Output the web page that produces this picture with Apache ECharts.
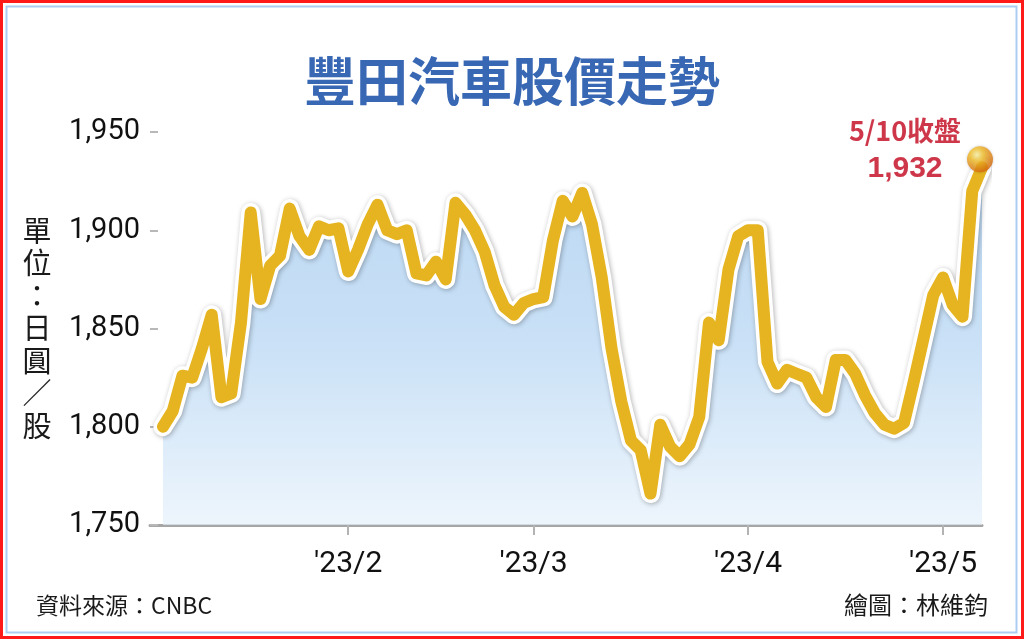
<!DOCTYPE html>
<html><head><meta charset="utf-8">
<script src="https://cdn.jsdelivr.net/npm/echarts@6/dist/echarts.min.js"></script>
<style>html,body{margin:0;padding:0;background:#fff}#c{width:1024px;height:639px}</style>
</head><body><div id="c"></div>
<script>
// Trading days 2023/1/4 – 2023/5/10 (Tokyo)
const dates = [
 '1/4','1/5','1/6','1/10','1/11','1/12','1/13','1/16','1/17','1/18','1/19','1/20','1/23','1/24','1/25','1/26','1/27','1/30','1/31',
 '2/1','2/2','2/3','2/6','2/7','2/8','2/9','2/10','2/13','2/14','2/15','2/16','2/17','2/20','2/21','2/22','2/24','2/27','2/28',
 '3/1','3/2','3/3','3/6','3/7','3/8','3/9','3/10','3/13','3/14','3/15','3/16','3/17','3/20','3/22','3/23','3/24','3/27','3/28','3/29','3/30','3/31',
 '4/3','4/4','4/5','4/6','4/7','4/10','4/11','4/12','4/13','4/14','4/17','4/18','4/19','4/20','4/21','4/24','4/25','4/26','4/27','4/28',
 '5/1','5/2','5/8','5/9','5/10'
];
const prices = [
 1800,1808,1826,1825,1840,1857,1815,1817,1853,1909,1865,1882,1887,1911,1897,1890,1902,1900,1901,
 1879,1890,1903,1913,1900,1898,1900,1878,1877,1884,1875,1914,1908,1900,1889,1872,1861,1857,1863,
 1865,1866,1895,1915,1907,1919,1903,1876,1840,1813,1793,1788,1766,1801,1790,1785,1791,1805,1853,1844,1880,1897,
 1900,1900,1833,1822,1829,1827,1825,1815,1810,1834,1834,1827,1816,1807,1801,1799,1802,1823,1845,1867,
 1876,1862,1856,1920,1932
];
const tickDates = ['2/1','3/1','4/3','5/1'];
const tickLabels = ["'23/2","'23/3","'23/4","'23/5"];
const yMin = 1750, yMax = 1950, yStep = 50;
const titleText = '豐田汽車股價走勢';
const unitText = '單位：日圓／股';
const sourceText = '資料來源：CNBC';
const creditText = '繪圖：林維鈞';
const closeLabel = '5/10收盤';

const chart = echarts.init(document.getElementById('c'));
const seriesData = prices.map((v, i) => [i, v]);
const tickIdx = tickDates.map(d => dates.indexOf(d));
const last = seriesData[seriesData.length - 1];
const fmt = v => String(v).replace(/\B(?=(\d{3})+(?!\d))/g, ',');

chart.setOption({
  animation: false,
  backgroundColor: '#fff',
  title: {
    text: titleText, left: 'center', top: 50,
    textStyle: { fontFamily: 'Noto Sans CJK TC', fontSize: 52, fontWeight: 'bold', color: '#3867b4', lineHeight: 52 }
  },
  grid: { left: 150, right: 42, top: 132, bottom: 114 },
  xAxis: {
    type: 'value', min: -1.33, max: prices.length - 1,
    splitLine: { show: false },
    axisLine: { show: true, lineStyle: { color: '#a6a6a6', width: 3 } },
    axisTick: { show: true, customValues: tickIdx, length: 10, lineStyle: { color: '#b3b3b3', width: 2 } },
    axisLabel: {
      customValues: tickIdx, margin: 24,
      formatter: v => tickLabels[tickIdx.indexOf(Math.round(v))] || '',
      fontFamily: 'Roboto', fontSize: 30, color: '#111'
    }
  },
  yAxis: {
    type: 'value', min: yMin, max: yMax, interval: yStep,
    splitLine: { show: false },
    axisLine: { show: false, onZero: false },
    axisTick: { show: true, inside: true, length: 8, lineStyle: { color: '#b8b8b8', width: 2 } },
    axisLabel: { margin: 10, formatter: fmt, fontFamily: 'Roboto', fontSize: 29, color: '#111' }
  },
  series: [
    {
      type: 'line', data: seriesData, symbol: 'none', z: 2,
      lineStyle: { color: '#ffffff', width: 19, cap: 'round', join: 'round',
        shadowColor: 'rgba(0,0,0,0.3)', shadowBlur: 5, shadowOffsetX: 1, shadowOffsetY: 1 },
      areaStyle: {
        color: new echarts.graphic.LinearGradient(0, 0, 0, 1, [
          { offset: 0, color: '#9ec7ee' }, { offset: 0.5, color: '#b3d4f3' }, { offset: 1, color: '#e6f1fb' }
        ])
      }
    },
    {
      type: 'line', data: seriesData, symbol: 'none', z: 3,
      lineStyle: { color: '#e6b420', width: 12, cap: 'round', join: 'round' }
    },
    {
      type: 'scatter', data: [last], z: 5, symbolSize: 26, symbolOffset: [-2, -8],
      itemStyle: {
        color: new echarts.graphic.RadialGradient(0.38, 0.32, 0.72, [
          { offset: 0, color: '#fff6a8' }, { offset: 0.35, color: '#f6c22a' }, { offset: 1, color: '#d8630c' }
        ]),
        shadowColor: 'rgba(0,0,0,0.25)', shadowBlur: 3
      },
      label: {
        show: true, position: [-62, 3], align: 'center', verticalAlign: 'middle',
        formatter: '{a|' + closeLabel + '}\n{b|' + fmt(last[1]) + '}',
        rich: {
          a: { fontFamily: 'Noto Sans CJK TC', fontSize: 27, fontWeight: 'bold', color: '#c0051c', lineHeight: 38, align: 'center' },
          b: { fontFamily: 'Liberation Sans', fontSize: 30, fontWeight: 'bold', color: '#c0051c', lineHeight: 38, align: 'center' }
        }
      }
    }
  ],
  graphic: [
    { type: 'rect', silent: true, shape: { x: 1.5, y: 1.5, width: 1021, height: 636 }, style: { fill: 'none', stroke: '#ff1a1a', lineWidth: 3 } },
    { type: 'rect', silent: true, shape: { x: 6.5, y: 6.5, width: 1010, height: 626 }, style: { fill: 'none', stroke: '#aacdf0', lineWidth: 2 } },
    { type: 'text', silent: true, x: 37, y: 328, style: { text: unitText.split('').join('\n'), align: 'center', verticalAlign: 'middle',
        fontFamily: 'Noto Sans CJK TC', fontSize: 29, lineHeight: 32.5, fill: '#1a1a1a' } },
    { type: 'text', silent: true, x: 36, y: 605, style: { text: sourceText, align: 'left', verticalAlign: 'middle',
        fontFamily: 'Noto Sans CJK TC', fontSize: 23, fill: '#1a1a1a' } },
    { type: 'text', silent: true, x: 988, y: 605, style: { text: creditText, align: 'right', verticalAlign: 'middle',
        fontFamily: 'Noto Sans CJK TC', fontSize: 24, fill: '#1a1a1a' } }
  ]
});
</script></body></html>
